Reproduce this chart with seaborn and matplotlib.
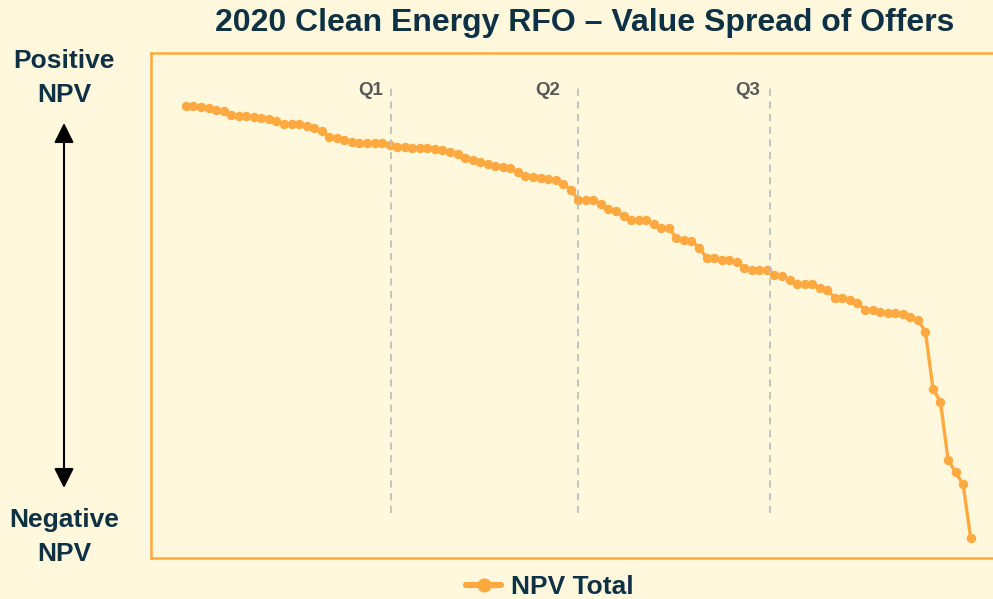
import matplotlib.pyplot as plt
import seaborn as sns

# NPV score per offer, sorted from best to worst (relative units)
npv_total = [
    454.3, 454.0, 453.7, 452.7, 450.7, 449.0, 445.7, 444.3, 444.3, 443.3,
    442.3, 441.3, 439.3, 436.3, 436.3, 436.3, 434.0, 432.3, 429.3, 423.3,
    422.7, 420.3, 418.7, 417.7, 417.7, 417.7, 417.0, 415.0, 413.3, 413.0,
    412.7, 412.7, 412.7, 411.7, 410.7, 408.7, 406.0, 402.7, 400.0, 398.3,
    396.0, 394.3, 393.3, 392.0, 388.0, 384.7, 383.3, 382.7, 381.7, 380.0,
    376.7, 370.7, 360.5, 360.0, 360.0, 356.0, 351.3, 349.3, 344.0, 340.7,
    340.0, 340.0, 336.0, 332.7, 332.7, 322.0, 320.7, 319.3, 312.7, 302.7,
    302.0, 300.0, 300.0, 298.0, 292.7, 290.7, 290.0, 290.0, 285.0, 284.0,
    280.0, 276.0, 276.0, 276.0, 272.0, 270.0, 262.7, 262.0, 260.0, 257.3,
    250.7, 250.0, 248.0, 247.5, 247.3, 246.0, 243.3, 240.7, 228.7, 171.7,
    158.3, 100.7, 88.0, 76.0, 22.0,
]
offer_rank = list(range(len(npv_total)))

quartile_labels = ['Q1', 'Q2', 'Q3']
quartile_pos = [27.2, 51.9, 77.4]

sns.set_style('white')
plt.rcParams['font.family'] = ['Liberation Sans', 'DejaVu Sans']

bg = '#FFF8DD'
orange = '#FFA940'
navy = '#0E3245'

fig = plt.figure(figsize=(9.93, 5.99), dpi=100, facecolor=bg)
ax = fig.add_axes([0.152, 0.068, 0.848, 0.843])
ax.set_facecolor(bg)

sns.lineplot(x=offer_rank, y=npv_total, marker='o', color=orange, linewidth=2.4,
             markersize=6.8, markeredgewidth=0, label='NPV Total', ax=ax)

# quartile dividers
ax.vlines(quartile_pos, 47, 473, colors='#BFBFBF', linestyles=(0, (4, 3)), linewidth=1.3)
label_shift = [-5.8, -12.2, -7.2]
for q, lab, dx in zip(quartile_pos, quartile_labels, label_shift):
    ax.annotate(lab, (q, 470), xytext=(dx, 0), textcoords='offset points',
                ha='right', va='center', fontsize=13.5, fontweight='bold', color='#595959')

ax.set_xlim(-4.64, 106.96)
ax.set_ylim(2, 507)
ax.set_xticks([])
ax.set_yticks([])
ax.set_xlabel('')
ax.set_ylabel('')
for side in ['left', 'top', 'bottom']:
    ax.spines[side].set_color(orange)
    ax.spines[side].set_linewidth(1.8)
ax.spines['right'].set_visible(False)

leg = ax.legend(loc='center', bbox_to_anchor=(0.554, 0.02), bbox_transform=fig.transFigure,
                frameon=False, prop={'weight': 'bold', 'size': 19},
                handlelength=1.3, handletextpad=0.4, markerscale=1.5)
for t in leg.get_texts():
    t.set_color(navy)
for h in leg.legend_handles:
    h.set_linewidth(4.5)

fig.text(585 / 993, 1 - 22.5 / 599, '2020 Clean Energy RFO \u2013 Value Spread of Offers',
         ha='center', va='center', fontsize=23, fontweight='bold', color=navy)
fig.text(64 / 993, 1 - 78 / 599, 'Positive\nNPV', ha='center', va='center',
         fontsize=19, fontweight='bold', color=navy, linespacing=1.5)
fig.text(64 / 993, 1 - 537 / 599, 'Negative\nNPV', ha='center', va='center',
         fontsize=19, fontweight='bold', color=navy, linespacing=1.5)

ax.annotate('', xy=(64, 599 - 123), xytext=(64, 599 - 488),
            xycoords='figure pixels', textcoords='figure pixels',
            arrowprops=dict(arrowstyle='<|-|>', color='black', lw=1.5,
                            mutation_scale=30, shrinkA=0, shrinkB=0))

fig.savefig('out.png', dpi=100, facecolor=bg)
